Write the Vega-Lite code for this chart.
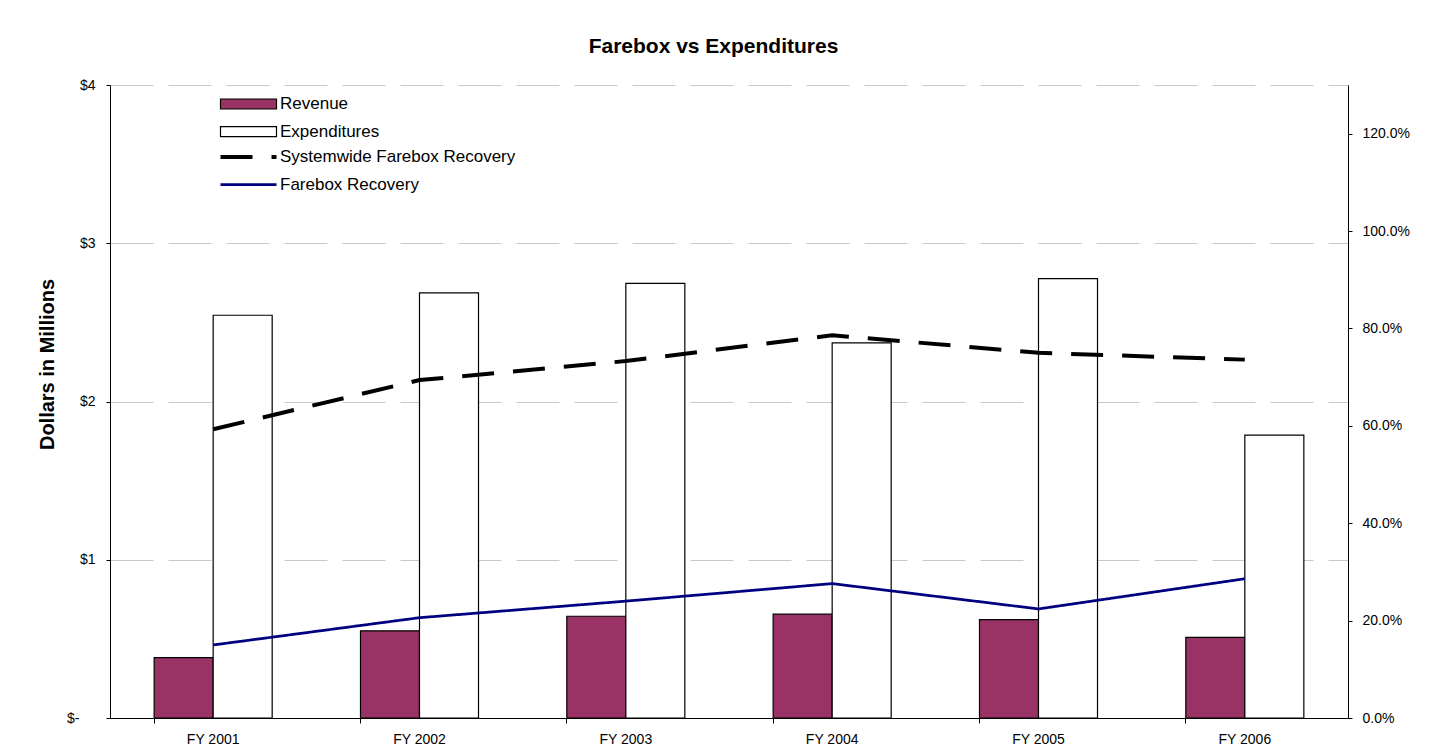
{
  "$schema": "https://vega.github.io/schema/vega-lite/v6.json",
  "autosize": "none",
  "width": 1238,
  "height": 633,
  "padding": {"left": 110, "top": 85, "right": 82, "bottom": 33},
  "background": "white",
  "config": {"view": {"stroke": null}, "font": "Liberation Sans"},
  "title": {"text": "Farebox vs Expenditures", "fontSize": 21, "fontWeight": "bold", "font": "Liberation Sans", "color": "black", "anchor": "middle", "frame": "group", "dx": -15.5, "offset": 4, "baseline": "alphabetic"},
  "datasets": {
    "bars": [
      {"year": "FY 2001", "series": "Revenue", "value": 0.382},
      {"year": "FY 2001", "series": "Expenditures", "value": 2.545},
      {"year": "FY 2002", "series": "Revenue", "value": 0.551},
      {"year": "FY 2002", "series": "Expenditures", "value": 2.686},
      {"year": "FY 2003", "series": "Revenue", "value": 0.643},
      {"year": "FY 2003", "series": "Expenditures", "value": 2.747},
      {"year": "FY 2004", "series": "Revenue", "value": 0.656},
      {"year": "FY 2004", "series": "Expenditures", "value": 2.371},
      {"year": "FY 2005", "series": "Revenue", "value": 0.622},
      {"year": "FY 2005", "series": "Expenditures", "value": 2.777},
      {"year": "FY 2006", "series": "Revenue", "value": 0.509},
      {"year": "FY 2006", "series": "Expenditures", "value": 1.787}
    ],
    "lines": [
      {"year": "FY 2001", "series": "Systemwide Farebox Recovery", "pct": 0.593},
      {"year": "FY 2002", "series": "Systemwide Farebox Recovery", "pct": 0.694},
      {"year": "FY 2003", "series": "Systemwide Farebox Recovery", "pct": 0.733},
      {"year": "FY 2004", "series": "Systemwide Farebox Recovery", "pct": 0.786},
      {"year": "FY 2005", "series": "Systemwide Farebox Recovery", "pct": 0.750},
      {"year": "FY 2006", "series": "Systemwide Farebox Recovery", "pct": 0.736},
      {"year": "FY 2001", "series": "Farebox Recovery", "pct": 0.150},
      {"year": "FY 2002", "series": "Farebox Recovery", "pct": 0.206},
      {"year": "FY 2003", "series": "Farebox Recovery", "pct": 0.240},
      {"year": "FY 2004", "series": "Farebox Recovery", "pct": 0.276},
      {"year": "FY 2005", "series": "Farebox Recovery", "pct": 0.224},
      {"year": "FY 2006", "series": "Farebox Recovery", "pct": 0.286}
    ]
  },
  "layer": [
    {
      "data": {"name": "bars"},
      "mark": {"type": "bar", "stroke": "black", "strokeWidth": 1.2},
      "encoding": {
        "x": {
          "field": "year", "type": "nominal",
          "scale": {"paddingInner": 0.428, "paddingOuter": 0.214},
          "axis": {"orient": "bottom", "title": null, "labelAngle": 0, "labelFontSize": 14, "labelColor": "black", "labelPadding": 14, "ticks": false, "domain": true, "domainColor": "black", "domainWidth": 1, "grid": false}
        },
        "xOffset": {"field": "series", "type": "nominal", "sort": ["Revenue", "Expenditures"], "scale": {"paddingInner": 0, "paddingOuter": 0}},
        "y": {
          "field": "value", "type": "quantitative", "stack": null,
          "scale": {"domain": [0, 4], "nice": false},
          "axis": {"orient": "left", "values": [0, 1, 2, 3, 4], "labelExpr": "datum.value == 0 ? '$-' : '$' + datum.value", "labelPadding": {"condition": {"test": "datum.value == 0", "value": 27}, "value": 11}, "labelFontSize": 14, "labelColor": "black", "tickSize": 4, "tickColor": "black", "domainColor": "black", "grid": true, "gridColor": "#c8c8c8", "gridDash": [43, 15], "gridWidth": 1, "title": "Dollars in Millions", "titleFontSize": 20, "titleFontWeight": "bold", "titleColor": "black", "titleX": -63, "titleY": 279, "titleAngle": -90, "titleAlign": "center", "titleBaseline": "middle"}
        },
        "fill": {
          "field": "series", "type": "nominal",
          "scale": {"domain": ["Revenue", "Expenditures"], "range": ["#993366", "#ffffff"]},
          "legend": {"orient": "none", "legendX": 130, "legendY": 10.5, "title": null, "symbolType": "M-5.6,-1H5.6V1H-5.6Z", "symbolSize": 100, "symbolStrokeColor": "black", "symbolStrokeWidth": 1.2, "labelFontSize": 17, "labelColor": "black", "labelOffset": 23, "labelLimit": 400, "rowPadding": 9.7, "padding": 0}
        }
      }
    },
    {
      "data": {"name": "lines"},
      "mark": {"type": "line"},
      "encoding": {
        "x": {
          "field": "year", "type": "nominal",
          "axis": {"orient": "bottom", "bandPosition": 0, "labels": false, "ticks": true, "tickSize": 5, "tickColor": "black", "domain": false, "grid": false, "title": null}
        },
        "y": {
          "field": "pct", "type": "quantitative",
          "scale": {"domain": [0, 1.3], "nice": false},
          "axis": {"orient": "right", "values": [0, 0.2, 0.4, 0.6, 0.8, 1.0, 1.2], "format": ".1%", "labelFontSize": 14, "labelColor": "black", "labelPadding": 10, "tickSize": 4, "tickColor": "black", "domainColor": "black", "grid": false, "title": null}
        },
        "stroke": {
          "field": "series", "type": "nominal",
          "scale": {"domain": ["Systemwide Farebox Recovery", "Farebox Recovery"], "range": ["black", "#000080"]},
          "legend": {"orient": "none", "legendX": 130, "legendY": 63.5, "title": null, "symbolType": "M-5.6,0H5.6", "symbolSize": 100, "labelFontSize": 17, "labelColor": "black", "labelOffset": 23, "labelLimit": 400, "rowPadding": 9.7, "padding": 0}
        },
        "strokeDash": {
          "field": "series", "type": "nominal",
          "scale": {"domain": ["Systemwide Farebox Recovery", "Farebox Recovery"], "range": [[32, 19], [1, 0]]}
        },
        "strokeWidth": {
          "field": "series", "type": "nominal",
          "scale": {"domain": ["Systemwide Farebox Recovery", "Farebox Recovery"], "range": [4, 2.75]}
        }
      }
    }
  ],
  "resolve": {"scale": {"y": "independent"}, "axis": {"x": "independent"}}
}
